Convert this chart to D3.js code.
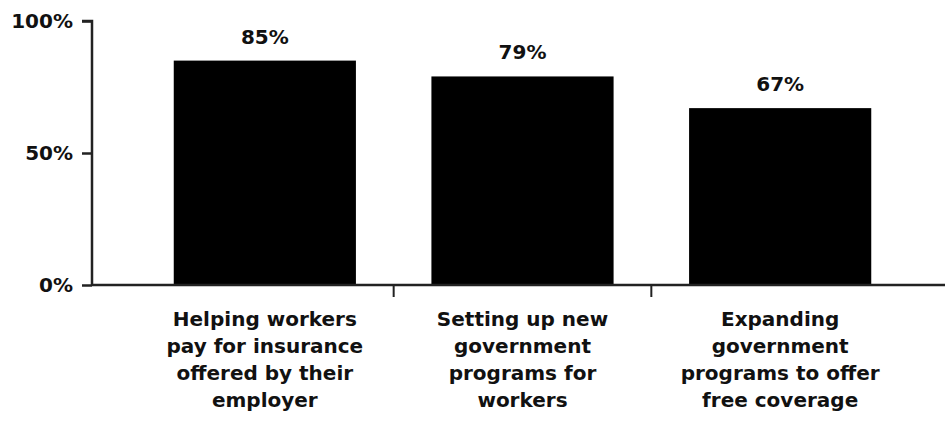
<!DOCTYPE html>
<html>
<head>
<meta charset="utf-8">
<script src="https://cdn.jsdelivr.net/npm/d3@7"></script>
<style>
  body { margin: 0; background: #fff; }
  text { font-family: "DejaVu Sans", sans-serif; font-weight: bold; fill: #111; }
</style>
</head>
<body>
<div id="vis"></div>
<script>
// data
let categories = [
  ["Helping workers", "pay for insurance", "offered by their", "employer"],
  ["Setting up new", "government", "programs for", "workers"],
  ["Expanding", "government", "programs to offer", "free coverage"]
]
let values = [85, 79, 67]
let yTicks = [0, 50, 100]

let W = 945, H = 424

let svg = d3.select('#vis')
  .append('svg')
  .attr('width', W)
  .attr('height', H)
  .style('background-color', 'white')

// scales
let x = d3.scaleBand()
  .domain(d3.range(categories.length))
  .range([136, 909])
  .paddingInner(0.293)
  .paddingOuter(0.1465)

let y = d3.scaleLinear()
  .domain([0, 100])
  .range([285, 21])

// bars
svg.selectAll('rect.bar')
  .data(values)
  .enter().append('rect')
  .attr('class', 'bar')
  .attr('x', (d, i) => x(i))
  .attr('y', d => y(d))
  .attr('width', x.bandwidth())
  .attr('height', d => y(0) - y(d))
  .attr('fill', '#000')

// value labels
svg.selectAll('text.val')
  .data(values)
  .enter().append('text')
  .attr('class', 'val')
  .attr('x', (d, i) => x(i) + x.bandwidth() / 2)
  .attr('y', d => y(d) - 17)
  .attr('text-anchor', 'middle')
  .style('font-size', '20px')
  .text(d => d + '%')

// y axis
let yAxis = svg.append('g')
  .attr('transform', 'translate(92,0)')
  .call(d3.axisLeft(y).tickValues(yTicks).tickFormat(d => d + '%').tickSize(10).tickPadding(9))
yAxis.select('.domain').attr('stroke', '#222').attr('stroke-width', 2.5)
  .attr('d', 'M-10,' + y(100) + 'H0V' + y(0))
yAxis.selectAll('.tick line').attr('stroke', '#222').attr('stroke-width', 2.5)
yAxis.selectAll('.tick text').style('font-size', '20px').attr('fill', '#111')
  .style('font-family', '"DejaVu Sans", sans-serif').style('font-weight', 'bold')

// x axis line
svg.append('line')
  .attr('x1', 92).attr('x2', W)
  .attr('y1', y(0)).attr('y2', y(0))
  .attr('stroke', '#222').attr('stroke-width', 2.5)

// ticks between categories
svg.selectAll('line.sep')
  .data(d3.range(1, categories.length))
  .enter().append('line')
  .attr('class', 'sep')
  .attr('x1', i => x(i) - x.step() * x.paddingInner() / 2)
  .attr('x2', i => x(i) - x.step() * x.paddingInner() / 2)
  .attr('y1', y(0))
  .attr('y2', y(0) + 12)
  .attr('stroke', '#222').attr('stroke-width', 2)

// category labels
let cat = svg.selectAll('text.cat')
  .data(categories)
  .enter().append('text')
  .attr('class', 'cat')
  .attr('x', (d, i) => x(i) + x.bandwidth() / 2)
  .attr('y', 326)
  .attr('text-anchor', 'middle')
  .style('font-size', '20px')

cat.selectAll('tspan')
  .data(d => d)
  .enter().append('tspan')
  .attr('x', function () { return d3.select(this.parentNode).attr('x') })
  .attr('dy', (d, i) => i == 0 ? 0 : 27)
  .text(d => d)
</script>
</body>
</html>
